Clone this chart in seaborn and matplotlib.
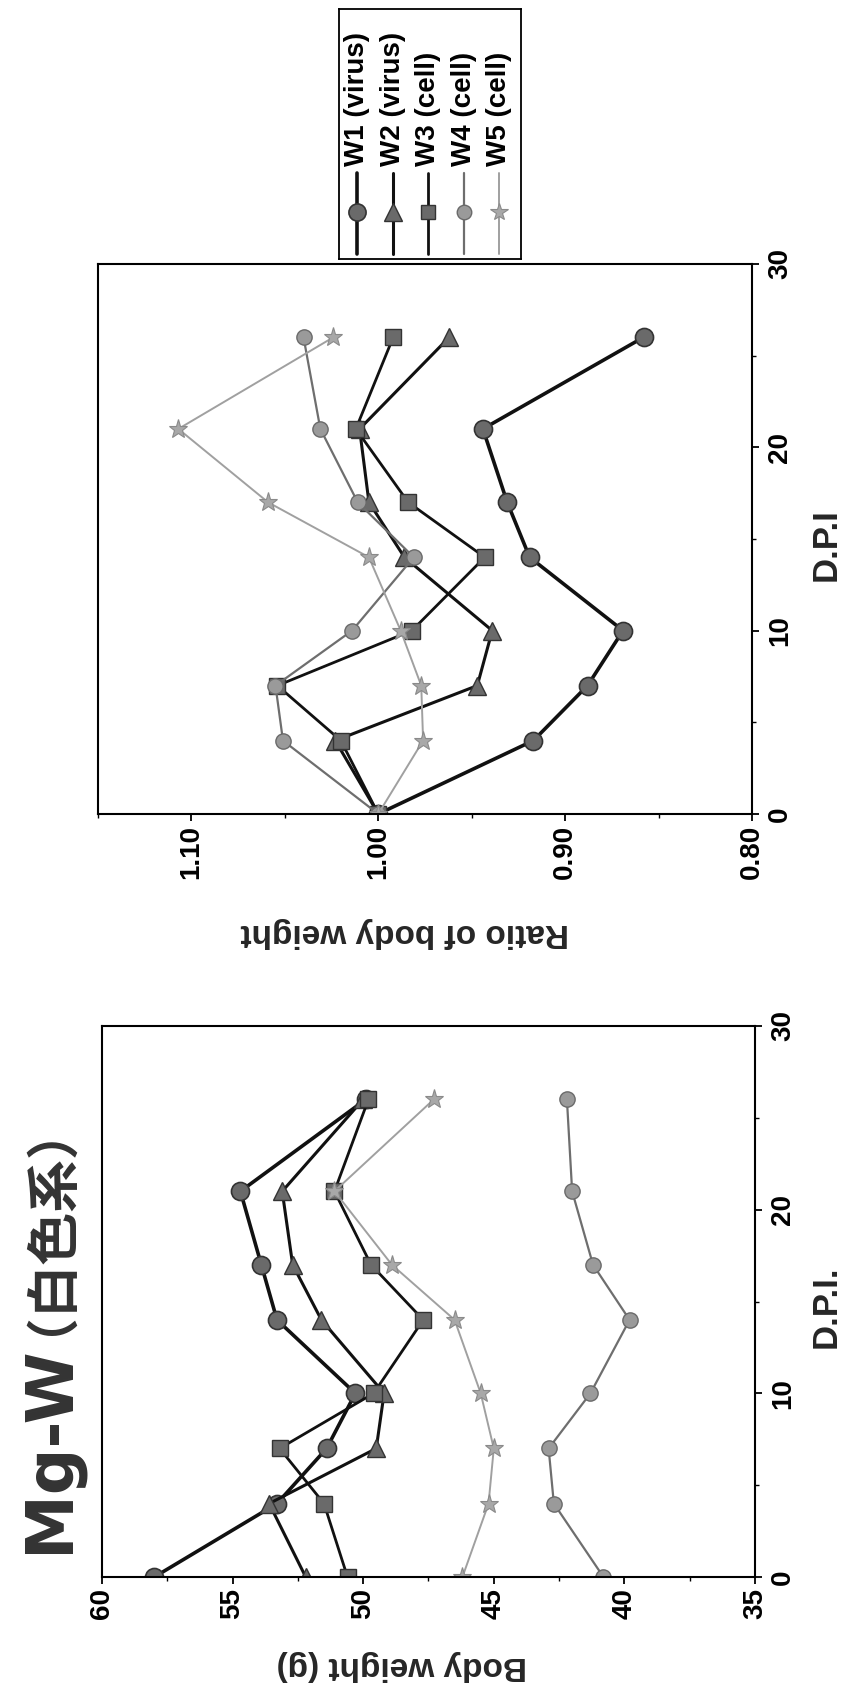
import matplotlib
matplotlib.use("Agg")
import matplotlib.pyplot as plt
import pandas as pd
import seaborn as sns
from matplotlib.ticker import MultipleLocator

# ---------------- data ----------------
days = [0, 4, 7, 10, 14, 17, 21, 26]
series_names = ["W1 (virus)", "W2 (virus)", "W3 (cell)", "W4 (cell)", "W5 (cell)"]

weight_w1 = [58.0, 53.3, 51.4, 50.3, 53.3, 53.9, 54.7, 49.9]
weight_w2 = [52.2, 53.6, 49.5, 49.2, 51.6, 52.7, 53.1, 50.0]
weight_w3 = [50.6, 51.5, 53.2, 49.6, 47.7, 49.7, 51.1, 49.8]
weight_w4 = [40.8, 42.7, 42.9, 41.3, 39.8, 41.2, 42.0, 42.2]
weight_w5 = [46.2, 45.2, 45.0, 45.5, 46.5, 48.9, 51.1, 47.3]

ratio_w1 = [1.00, 0.917, 0.888, 0.869, 0.919, 0.931, 0.944, 0.858]
ratio_w2 = [1.00, 1.023, 0.947, 0.939, 0.986, 1.005, 1.010, 0.962]
ratio_w3 = [1.00, 1.020, 1.054, 0.982, 0.943, 0.984, 1.012, 0.992]
ratio_w4 = [1.00, 1.051, 1.055, 1.014, 0.981, 1.011, 1.031, 1.040]
ratio_w5 = [1.00, 0.976, 0.977, 0.988, 1.005, 1.059, 1.107, 1.024]

ratio_ticks = [1.10, 1.00, 0.90, 0.80]
ratio_tick_labels = ["1.10", "1.00", "0.90", "0.80"]
weight_ticks = [60, 55, 50, 45, 40, 35]
weight_tick_labels = ["60", "55", "50", "45", "40", "35"]
day_ticks = [0, 10, 20, 30]
day_tick_labels = ["0", "10", "20", "30"]

title_latin = "Mg-W"
title_cjk = "（白色系）"

weights = [weight_w1, weight_w2, weight_w3, weight_w4, weight_w5]
ratios = [ratio_w1, ratio_w2, ratio_w3, ratio_w4, ratio_w5]

rows = []
for name, wv, rv in zip(series_names, weights, ratios):
    for d, w, r in zip(days, wv, rv):
        rows.append({"series": name, "day": d, "weight": w, "ratio": r})
df = pd.DataFrame(rows)

# ---------------- style ----------------
sns.set_style("white")
plt.rcParams["font.family"] = ["Liberation Sans", "Noto Sans CJK JP", "DejaVu Sans"]
plt.rcParams["font.weight"] = "bold"

styles = {
    "W1 (virus)": dict(color="#111111", linewidth=2.6, marker="o", markersize=13,
                       markerfacecolor="#6a6a6a", markeredgecolor="#333333", markeredgewidth=1.2),
    "W2 (virus)": dict(color="#111111", linewidth=2.2, marker="^", markersize=13,
                       markerfacecolor="#6a6a6a", markeredgecolor="#333333", markeredgewidth=1.0),
    "W3 (cell)": dict(color="#111111", linewidth=2.0, marker="s", markersize=11,
                      markerfacecolor="#6a6a6a", markeredgecolor="#333333", markeredgewidth=1.0),
    "W4 (cell)": dict(color="#6e6e6e", linewidth=1.6, marker="o", markersize=11,
                      markerfacecolor="#9a9a9a", markeredgecolor="#6a6a6a", markeredgewidth=1.0),
    "W5 (cell)": dict(color="#a0a0a0", linewidth=1.4, marker="*", markersize=14,
                      markerfacecolor="#a8a8a8", markeredgecolor="#8a8a8a", markeredgewidth=0.8),
}

fig = plt.figure(figsize=(8.55, 16.95), dpi=100)
fig.patch.set_facecolor("white")

ax_r = fig.add_axes([0.1146, 0.5198, 0.7649, 0.3245])
ax_w = fig.add_axes([0.1193, 0.0696, 0.7637, 0.3251])


def draw(ax, col):
    for name in series_names:
        sub = df[df["series"] == name]
        sns.lineplot(data=sub, x=col, y="day", ax=ax, sort=False, orient="y",
                     estimator=None, legend=False, **styles[name])


def setup(ax, xlim, xticks, xticklabels, xminor, xlabel, xlabel_xy, ylabel, ylabel_xy):
    ax.set_xlim(*xlim)
    ax.set_ylim(0, 30)
    ax.yaxis.tick_right()
    ax.yaxis.set_label_position("right")
    ax.set_yticks(day_ticks)
    ax.set_yticklabels(day_tick_labels)
    ax.yaxis.set_minor_locator(MultipleLocator(5))
    ax.set_xticks(xticks)
    ax.set_xticklabels(xticklabels)
    ax.xaxis.set_minor_locator(MultipleLocator(xminor))
    ax.tick_params(which="major", direction="out", length=5, width=1.3, colors="black",
                   labelsize=20)
    ax.tick_params(which="minor", direction="out", length=3, width=1.0, colors="black")
    ax.tick_params(axis="x", which="both", bottom=True, top=False, labelrotation=90, pad=3)
    ax.tick_params(axis="y", which="both", right=True, left=False, labelrotation=90, pad=6)
    for lab in ax.get_yticklabels():
        lab.set_va("center")
        lab.set_fontweight("bold")
    for lab in ax.get_xticklabels():
        lab.set_fontweight("bold")
    for s in ax.spines.values():
        s.set_visible(True)
        s.set_color("black")
        s.set_linewidth(1.5)
    ax.set_xlabel(xlabel, fontsize=24, fontweight="bold", rotation=180)
    ax.xaxis.set_label_coords(*xlabel_xy)
    ax.xaxis.label.set_va("center")
    ax.set_ylabel(ylabel, fontsize=25, fontweight="bold", rotation=90)
    ax.yaxis.set_label_coords(*ylabel_xy)
    ax.yaxis.label.set_va("center")
    ax.yaxis.label.set_ha("center")
    ax.grid(False)


draw(ax_r, "ratio")
draw(ax_w, "weight")
setup(ax_r, (1.15, 0.80), ratio_ticks, ratio_tick_labels, 0.05,
      "Ratio of body weight", (0.469, -0.216), "D.P.I", (1.113, 0.49))
setup(ax_w, (60, 35), weight_ticks, weight_tick_labels, 2.5,
      "Body weight (g)", (0.459, -0.16), "D.P.I.", (1.109, 0.49))

# ---------------- rotated legend ----------------
lax = fig.add_axes([0.3965, 0.8472, 0.213, 0.1475])
lax.set_xlim(0, 1)
lax.set_ylim(0, 1)
lax.set_xticks([])
lax.set_yticks([])
for s in lax.spines.values():
    s.set_visible(True)
    s.set_color("black")
    s.set_linewidth(1.3)
col_start, col_step = 0.10, 0.195
line_lo, line_hi, mark_at, text_at = 0.02, 0.344, 0.188, 0.372
for i, name in enumerate(series_names):
    st = styles[name]
    xc = col_start + i * col_step
    lax.plot([xc, xc], [line_lo, line_hi], color=st["color"], linewidth=st["linewidth"])
    lax.plot([xc], [mark_at], linestyle="none", marker=st["marker"],
             markersize=st["markersize"] * 0.95, markerfacecolor=st["markerfacecolor"],
             markeredgecolor=st["markeredgecolor"], markeredgewidth=st["markeredgewidth"])
    lax.text(xc, text_at, name, rotation=90, ha="center", va="bottom",
             fontsize=20, fontweight="bold", color="black")

# ---------------- rotated title ----------------
W, H = 855.0, 1695.0
t1 = fig.text(67 / W, (H - 1553) / H, title_latin, rotation=90, rotation_mode="anchor",
              ha="left", va="baseline", fontsize=47, fontweight="bold",
              family=["DejaVu Sans"], color="#333333")
fig.canvas.draw()
bb = t1.get_window_extent()
fig.text(38 / W, (bb.y1 + 10) / fig.bbox.height, title_cjk, rotation=90,
         rotation_mode="anchor", ha="left", va="baseline", fontsize=38,
         family=["DejaVu Sans", "Noto Sans CJK JP"], fontweight="bold", color="#333333")

fig.savefig("out.png", dpi=100, facecolor="white")
